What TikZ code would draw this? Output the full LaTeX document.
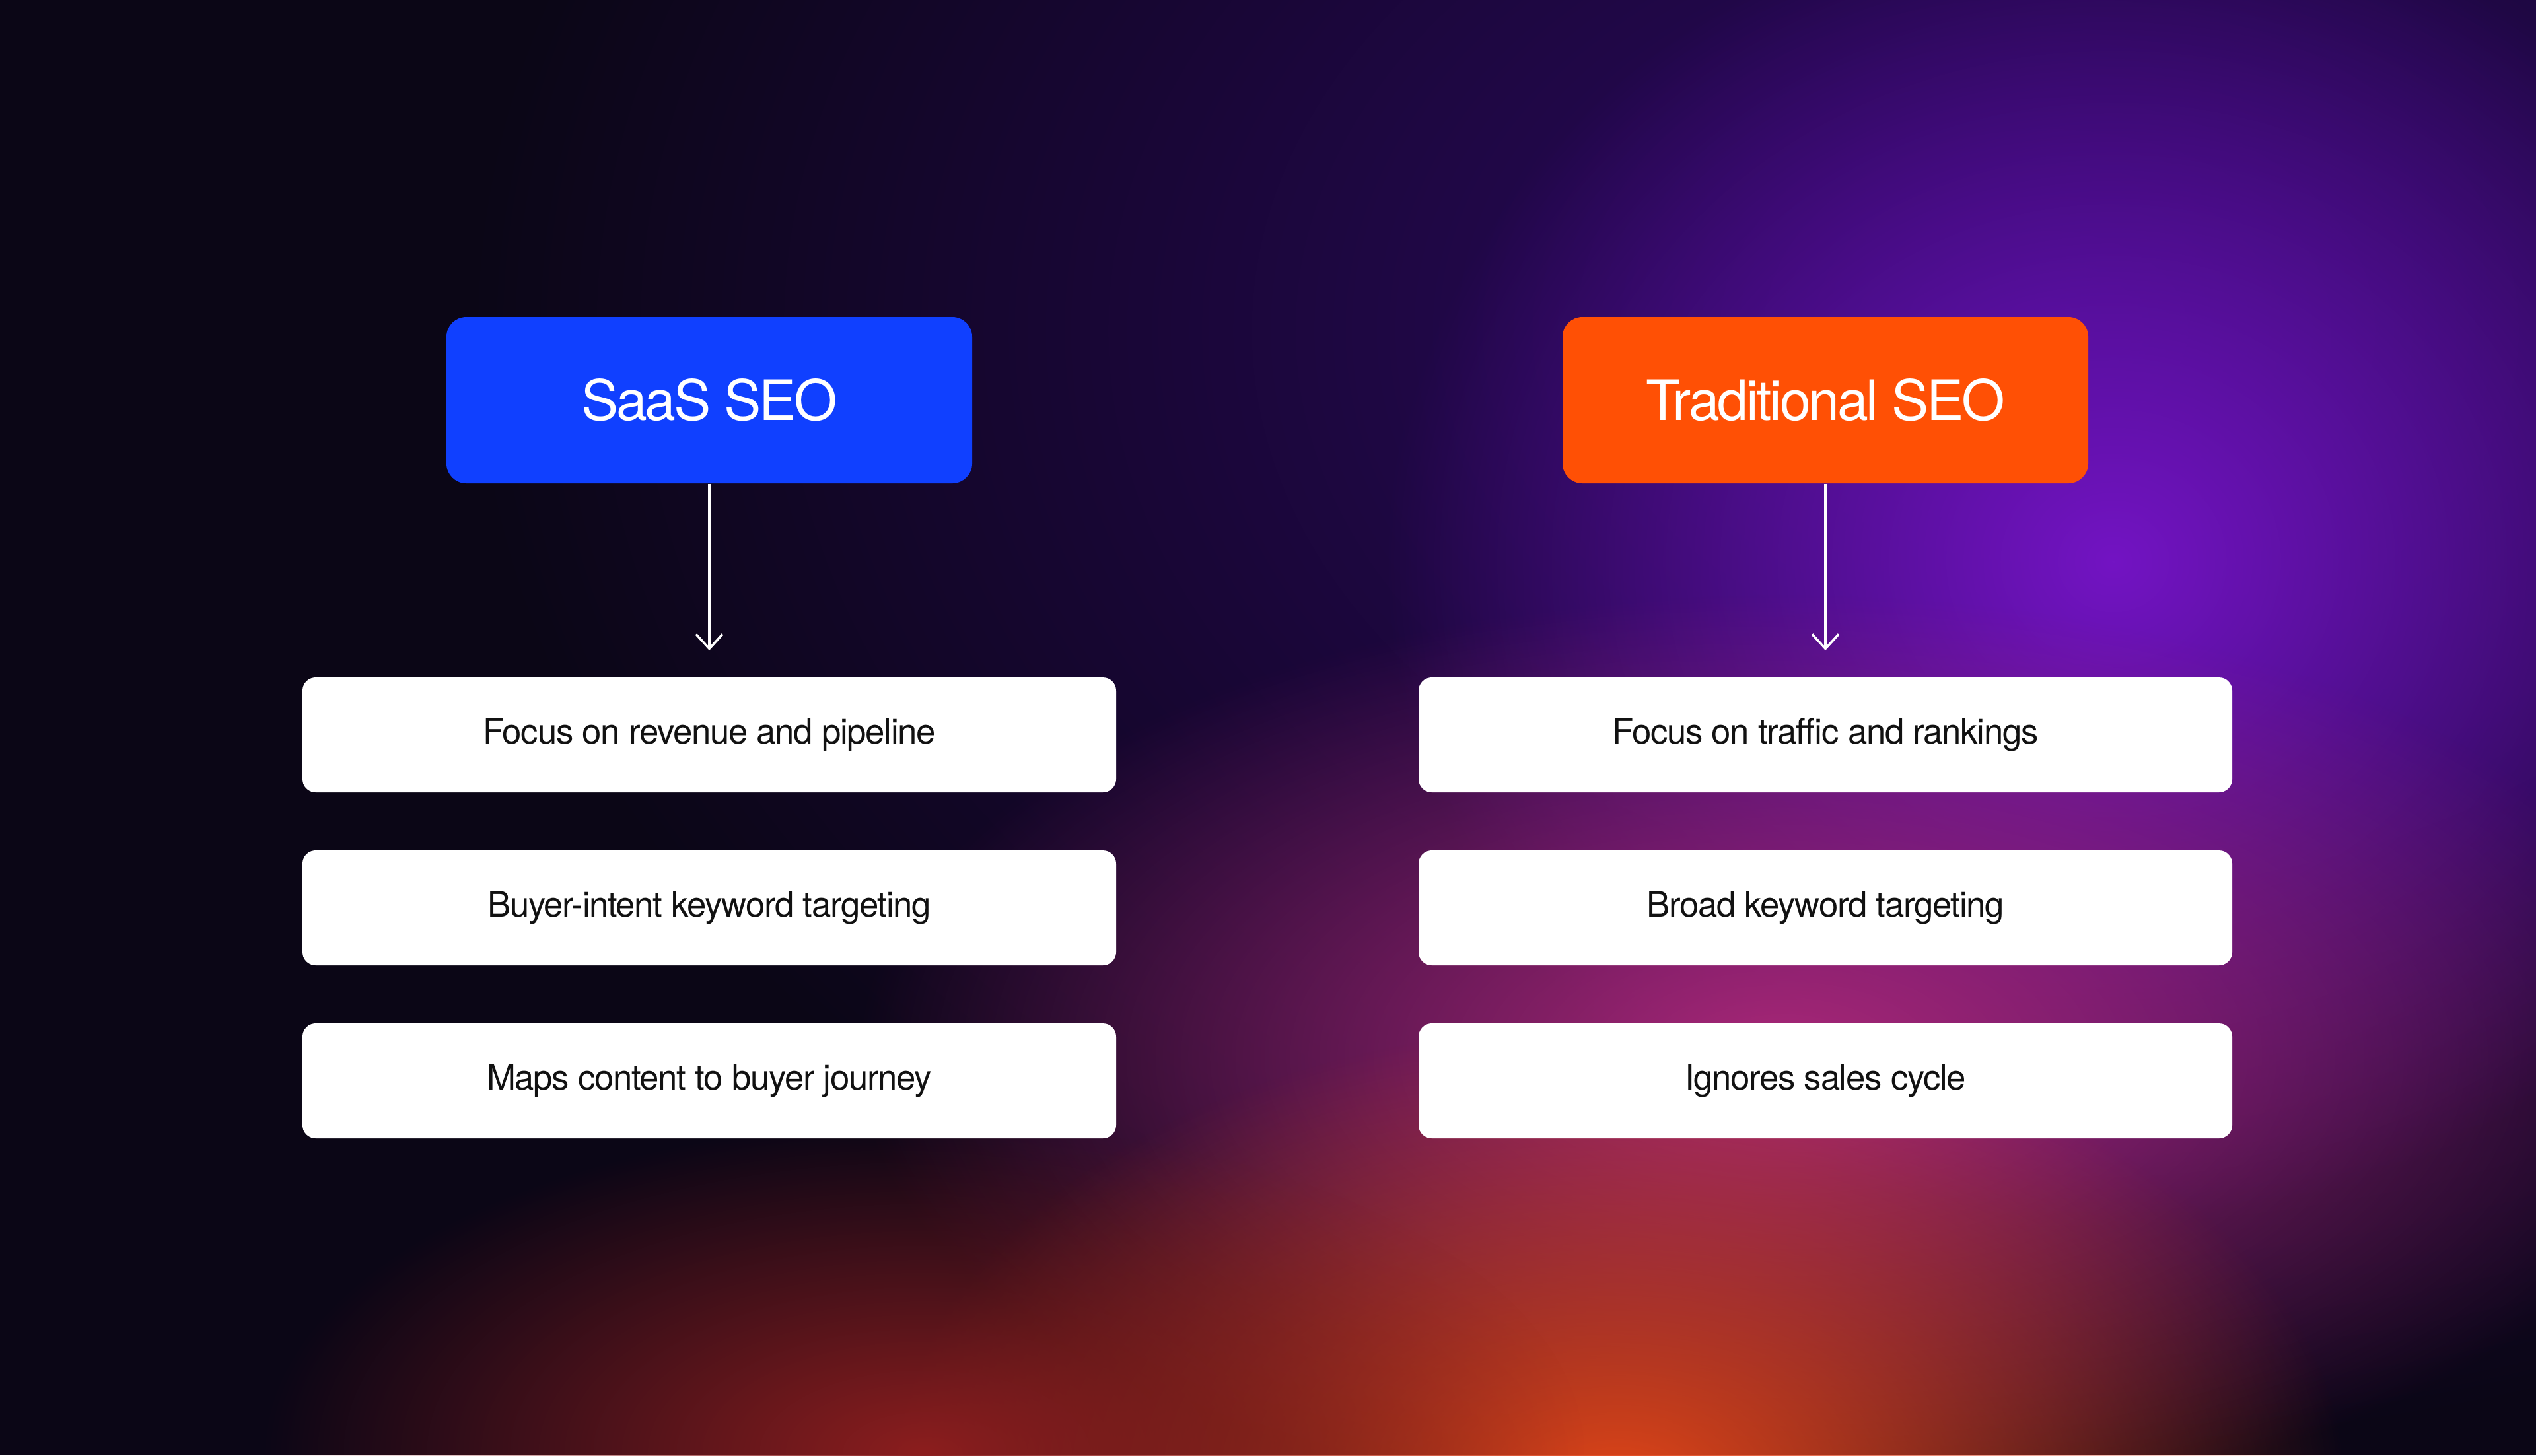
\documentclass[tikz,border=0pt]{standalone}
\usepackage{fontspec}
\setmainfont{TeX Gyre Heros}
\newfontfamily\tightfont[LetterSpace=-4]{TeX Gyre Heros}
\newfontfamily\itemfont[LetterSpace=-2.5]{TeX Gyre Heros}
\usetikzlibrary{arrows.meta,fadings}
\tikzfading[name=softfade, inner color=transparent!0, outer color=transparent!100]
\definecolor{bgbase}{HTML}{0B0616}
\definecolor{saasblue}{HTML}{1040FF}
\definecolor{tradorange}{HTML}{FF5005}
\definecolor{txtdark}{HTML}{111111}
\definecolor{glowA}{RGB}{45,8,100}
\definecolor{glowB}{RGB}{115,20,195}
\definecolor{glowC}{RGB}{170,40,120}
\definecolor{glowD}{RGB}{225,70,25}
\definecolor{glowE}{RGB}{140,30,30}
\begin{document}
\begin{tikzpicture}[x=1cm,y=1cm,
  header/.style={rounded corners=0.3cm, minimum width=7.96cm, minimum height=2.52cm, text=white, font=\tightfont\fontsize{24}{28}\selectfont, inner sep=0pt},
  item/.style={fill=white, rounded corners=0.2cm, minimum width=12.32cm, minimum height=1.74cm, text=txtdark, font=\itemfont\fontsize{15}{18}\selectfont, inner sep=0pt},
  conn/.style={white, line width=1pt, -{Straight Barb[length=0.22cm,width=0.4cm]}}]
\useasboundingbox (0,0) rectangle (38.4,-22.04);
\fill[bgbase] (0,0) rectangle (38.4,-22.04);
\begin{scope}
\clip (0,0) rectangle (38.4,-22.04);
\fill[glowA, path fading=softfade] (31,-5) ellipse (24cm and 17cm);
\fill[glowB, path fading=softfade] (32,-8.5) ellipse (11cm and 10cm);
\fill[glowC, path fading=softfade] (27,-16) ellipse (14cm and 7cm);
\fill[glowD, path fading=softfade] (24.5,-22.5) ellipse (11cm and 7cm);
\fill[glowE, path fading=softfade] (14,-22) ellipse (10cm and 5cm);
\end{scope}
\node[header, fill=saasblue] (saas) at (10.74,-6.06) {SaaS SEO};
\node[header, fill=tradorange] (trad) at (27.64,-6.06) {Traditional SEO};
\node[item] (s1) at (10.74,-11.13) {Focus on revenue and pipeline};
\node[item] (s2) at (10.74,-13.75) {Buyer-intent keyword targeting};
\node[item] (s3) at (10.74,-16.37) {Maps content to buyer journey};
\node[item] (t1) at (27.64,-11.13) {Focus on traffic and rankings};
\node[item] (t2) at (27.64,-13.75) {Broad keyword targeting};
\node[item] (t3) at (27.64,-16.37) {Ignores sales cycle};
\coordinate (sa) at (10.74,-9.85);
\coordinate (ta) at (27.64,-9.85);
\draw[conn] (saas.south) -- (sa);
\draw[conn] (trad.south) -- (ta);
\end{tikzpicture}
\end{document}
